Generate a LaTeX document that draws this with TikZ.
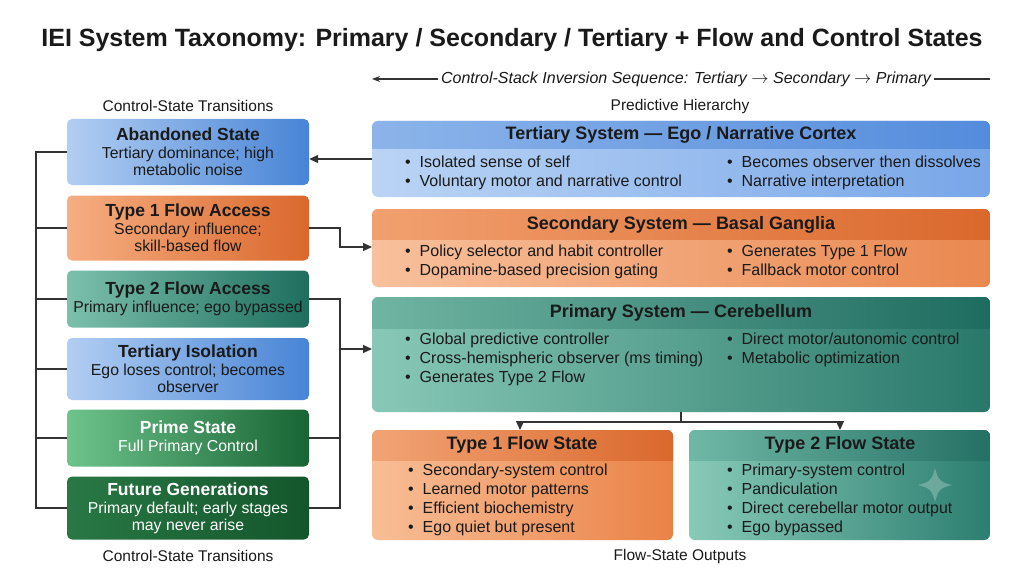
\documentclass[tikz,border=0pt]{standalone}
\usepackage{fontspec}
\setmainfont{Liberation Sans}
\usetikzlibrary{arrows.meta}
\definecolor{ink}{HTML}{1A1A1A}
\definecolor{ln}{HTML}{333333}
\tikzset{
  lb/.style={rounded corners=5pt, draw=none, minimum width=240pt, align=center, text=ink, inner sep=2pt},
  bluebox/.style={lb, left color={rgb,255:red,178;green,206;blue,242}, right color={rgb,255:red,72;green,132;blue,214}},
  orbox/.style={lb, left color={rgb,255:red,246;green,174;blue,130}, right color={rgb,255:red,218;green,104;blue,44}},
  tlbox/.style={lb, left color={rgb,255:red,124;green,192;blue,172}, right color={rgb,255:red,30;green,110;blue,94}},
  grbox/.style={lb, text=white, left color={rgb,255:red,110;green,196;blue,140}, right color={rgb,255:red,24;green,100;blue,52}},
  dgbox/.style={lb, text=white, left color={rgb,255:red,40;green,120;blue,68}, right color={rgb,255:red,20;green,86;blue,44}},
  hd/.style={font=\fontsize{18}{20}\selectfont\bfseries, text=ink},
  bl/.style={font=\fontsize{16}{18.8}\selectfont, align=left, anchor=north west, inner sep=0pt, text=ink},
  capt/.style={font=\fontsize{15.5}{17}\selectfont, text=ink},
  con/.style={draw=ln, line width=1.2pt},
  arr/.style={con, -{Triangle[length=9pt,width=8pt]}},
}
\newcommand{\lbtext}[2]{\parbox{238pt}{\centering\fontsize{17.5}{19}\selectfont\bfseries #1\\[1pt]\fontsize{15.8}{17}\selectfont\mdseries #2}}
\newcommand{\rbox}[9]{%
  \begin{scope}
  \clip[rounded corners=6pt] (#2,#3) rectangle (#4,#5);
  \shade[#9] (#2,#3) rectangle (#4,#5);
  \shade[left color=#7, right color=#8] (#2,#3) rectangle (#4,#6);
  \end{scope}
  \coordinate (#1-n) at ({(#2+#4)/2},#3);
  \coordinate (#1-s) at ({(#2+#4)/2},#5);
  \coordinate (#1-w) at (#2,{(#3+#5)/2});
}
\begin{document}
\begin{tikzpicture}[x=1pt,y=-1pt]
\useasboundingbox (0,0) rectangle (1024,572);
\fill[white] (0,0) rectangle (1024,572);
\node[font=\fontsize{25}{28}\selectfont\bfseries, text=ink] (title) at (512,40) {IEI System Taxonomy: Primary / Secondary / Tertiary + Flow and Control States};
\node[font=\fontsize{16}{18}\selectfont\itshape, text=ink] (seq) at (686,79) {Control-Stack Inversion Sequence: Tertiary $\rightarrow$ Secondary $\rightarrow$ Primary};
\coordinate (seqL) at (372,79); \coordinate (seqR) at (990,79);
\draw[draw=ln, line width=1.2pt, -{Stealth[length=8pt,width=6pt]}] (seq.west) -- (seqL);
\draw[con] (seq.east) -- (seqR);

\node[capt] (c1) at (188,106) {Control-State Transitions};
\node[capt] (c2) at (680,106) {Predictive Hierarchy};
\node[capt] (c3) at (188,556) {Control-State Transitions};
\node[capt] (c4) at (680,556) {Flow-State Outputs};

% left boxes
\node[bluebox, minimum height=66pt] (s1) at (188,152) {\lbtext{Abandoned State}{Tertiary dominance; high\\metabolic noise}};
\node[orbox, minimum height=65pt] (s2) at (188,228) {\lbtext{Type 1 Flow Access}{Secondary influence;\\skill-based flow}};
\node[tlbox, minimum height=57pt] (s3) at (188,299) {\lbtext{Type 2 Flow Access}{Primary influence; ego bypassed}};
\node[bluebox, minimum height=62pt] (s4) at (188,369) {\lbtext{Tertiary Isolation}{Ego loses control; becomes\\observer}};
\node[grbox, minimum height=57pt] (s5) at (188,438) {\lbtext{Prime State}{Full Primary Control}};
\node[dgbox, minimum height=63pt] (s6) at (188,508) {\lbtext{Future Generations}{Primary default; early stages\\may never arise}};

% right boxes
\rbox{ter}{372}{121}{990}{197}{149}{{rgb,255:red,140;green,180;blue,234}}{{rgb,255:red,84;green,140;blue,220}}{left color={rgb,255:red,186;green,212;blue,245}, right color={rgb,255:red,120;green,166;blue,232}}
\rbox{sec}{372}{209}{990}{287}{239}{{rgb,255:red,242;green,160;blue,112}}{{rgb,255:red,218;green,104;blue,44}}{left color={rgb,255:red,248;green,192;blue,156}, right color={rgb,255:red,234;green,136;blue,80}}
\rbox{pri}{372}{297}{990}{412}{328}{{rgb,255:red,112;green,180;blue,162}}{{rgb,255:red,30;green,108;blue,96}}{left color={rgb,255:red,136;green,200;blue,182}, right color={rgb,255:red,40;green,120;blue,106}}
\rbox{t1}{372}{430}{673}{540}{460}{{rgb,255:red,242;green,164;blue,118}}{{rgb,255:red,218;green,104;blue,44}}{left color={rgb,255:red,248;green,190;blue,150}, right color={rgb,255:red,234;green,130;blue,70}}
\rbox{t2}{689}{430}{990}{540}{460}{{rgb,255:red,112;green,184;blue,166}}{{rgb,255:red,36;green,112;blue,100}}{left color={rgb,255:red,136;green,202;blue,184}, right color={rgb,255:red,44;green,126;blue,112}}

\node[hd] (terh) at (681,135) {Tertiary System — Ego / Narrative Cortex};
\node[bl] (terb1) at (405,156) {\textbullet\ \ Isolated sense of self\\\textbullet\ \ Voluntary motor and narrative control};
\node[bl] (terb2) at (727,156) {\textbullet\ \ Becomes observer then dissolves\\\textbullet\ \ Narrative interpretation};
\node[hd] (sech) at (681,225) {Secondary System — Basal Ganglia};
\node[bl] (secb1) at (405,245) {\textbullet\ \ Policy selector and habit controller\\\textbullet\ \ Dopamine-based precision gating};
\node[bl] (secb2) at (727,245) {\textbullet\ \ Generates Type 1 Flow\\\textbullet\ \ Fallback motor control};
\node[hd] (prih) at (681,313) {Primary System — Cerebellum};
\node[bl] (prib1) at (405,333) {\textbullet\ \ Global predictive controller\\\textbullet\ \ Cross-hemispheric observer (ms timing)\\\textbullet\ \ Generates Type 2 Flow};
\node[bl] (prib2) at (727,333) {\textbullet\ \ Direct motor/autonomic control\\\textbullet\ \ Metabolic optimization};
\node[hd] (t1h) at (522,445) {Type 1 Flow State};
\node[bl] (t1b) at (408,464) {\textbullet\ \ Secondary-system control\\\textbullet\ \ Learned motor patterns\\\textbullet\ \ Efficient biochemistry\\\textbullet\ \ Ego quiet but present};
\node[hd] (t2h) at (840,445) {Type 2 Flow State};
\node[bl] (t2b) at (727,464) {\textbullet\ \ Primary-system control\\\textbullet\ \ Pandiculation\\\textbullet\ \ Direct cerebellar motor output\\\textbullet\ \ Ego bypassed};
% sparkle
\fill[white, opacity=0.25] (935,468) .. controls (938,480) and (940,482) .. (952,485) .. controls (940,488) and (938,490) .. (935,502) .. controls (932,490) and (930,488) .. (918,485) .. controls (930,482) and (932,480) .. (935,468) -- cycle;

% connectors
\coordinate (lbus1) at (36,152); \coordinate (lbus6) at (36,508);
\draw[con] (s1.west) -- (lbus1) -- (lbus6) -- (s6.west);
\foreach \s in {s2,s3,s4,s5} \draw[con] (\s.west) -- (36,0 |- \s.west);
\coordinate (ta) at (372,159);
\draw[arr] (ta) -- (s1.east |- ta);
\draw[arr] (s2.east) -- (340,228) -- (340,247) -- (372,247);
\draw[con] (s3.east) -- (340,299) -- (340,508) -- (s6.east);
\draw[con] (s5.east) -- (340,438);
\draw[arr] (340,349) -- (372,349);
\coordinate (sp) at (681,422);
\draw[con] (pri-s) -- (sp);
\draw[con] (520,422) -- (840,422);
\draw[arr] (520,422) -- (520,0 |- t1-n);
\draw[arr] (840,422) -- (840,0 |- t2-n);
\end{tikzpicture}
\end{document}
